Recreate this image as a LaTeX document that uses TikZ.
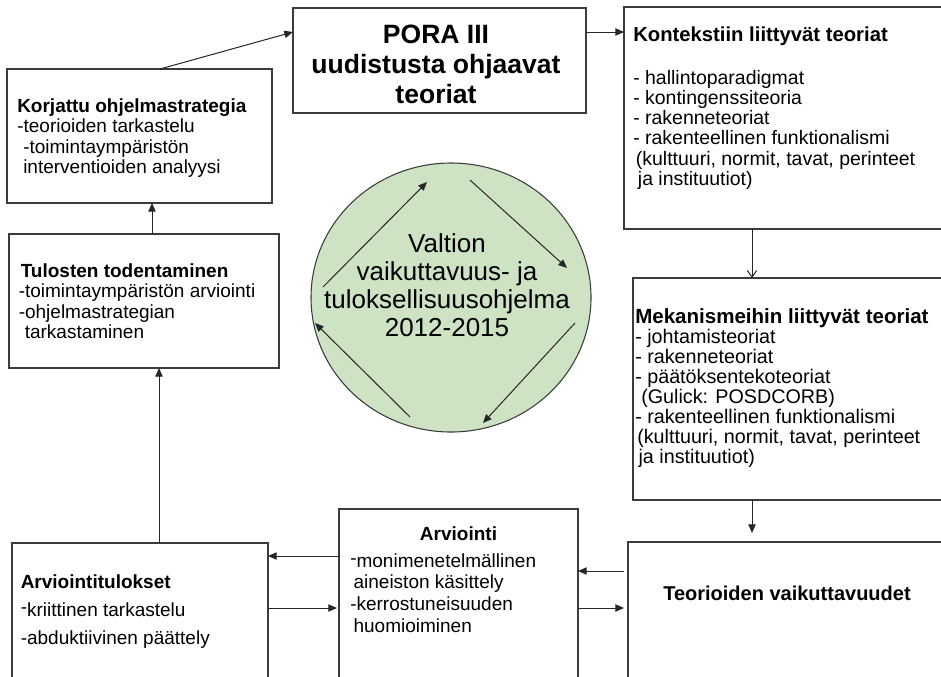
\documentclass[tikz,border=0pt]{standalone}
\usepackage{fontspec}
\setmainfont{Liberation Sans}
\usetikzlibrary{arrows.meta,fit,calc,shapes.geometric}

\definecolor{circfill}{RGB}{206,226,196}
\definecolor{linegray}{RGB}{60,60,60}

% raised dash used in two of the bullet lists
\newcommand{\updash}{\raisebox{0.12em}{-}}
% font sizes (1 unit = 0.75pt)
\newcommand{\bodyfont}{\fontsize{14.25}{15.4}\selectfont}

\begin{document}
\begin{tikzpicture}[x=0.75pt,y=-0.75pt,
  box/.style={draw=linegray, line width=0.9pt, inner sep=0pt, outer sep=0pt, fit={#1}},
  txt/.style={anchor=north west, inner sep=0pt, align=left},
  conn/.style={draw=black!85, line width=0.75pt, -{Triangle[length=6.5pt,width=5.5pt]}},
  openconn/.style={draw=black!85, line width=0.75pt, -{Straight Barb[length=5pt,width=7pt]}},
]
\useasboundingbox (0,0) rectangle (941,676);
\clip (0,0) rectangle (941,676);

% ---- boxes ----
\node[box={(7,69) (272,203)}] (korj) {};
\node[box={(293,8) (586,113)}] (pora) {};
\node[box={(624,7) (960,229)}] (kont) {};
\node[box={(633,278) (960,500)}] (mek) {};
\node[box={(628,542) (960,700)}] (teor) {};
\node[box={(339,509) (578,700)}] (arv) {};
\node[box={(12,543) (268,700)}] (atul) {};
\node[box={(9,234) (279,368)}] (tul) {};

% ---- central programme ellipse ----
\node[ellipse, draw=linegray, line width=0.8pt, fill=circfill, inner sep=0pt,
      minimum width=210pt, minimum height=201.75pt] (circ) at (451,297.5) {};

% ---- texts ----
\node[txt, font=\bodyfont] (korjtxt) at (17,98)
  {\textbf{Korjattu ohjelmastrategia}\\-teorioiden tarkastelu\\\hspace*{4.5pt}-toimintaympäristön\\\hspace*{4.5pt}interventioiden analyysi};

\node[anchor=north, inner sep=0pt, align=center, font=\fontsize{19.9}{22.5}\selectfont\bfseries] (poratxt) at (436,24.3)
  {PORA III\\uudistusta ohjaavat\\teoriat};

\node[anchor=base west, inner sep=0pt, font=\fontsize{15.2}{18}\selectfont\bfseries] (konthead) at (633,41)
  {Kontekstiin liittyvät teoriat};
\node[txt, font=\fontsize{14.6}{15.15}\selectfont] (konttxt) at (633,70)
  {- hallintoparadigmat\\- kontingenssiteoria\\- rakenneteoriat\\- rakenteellinen funktionalismi\\\hspace*{2pt}(kulttuuri, normit, tavat, perinteet\\\hspace*{3.5pt}ja instituutiot)};

\node[anchor=base west, inner sep=0pt, font=\fontsize{15.4}{18}\selectfont\bfseries] (mekhead) at (635,323.3)
  {Mekanismeihin liittyvät teoriat};
\node[txt, font=\fontsize{14.8}{15}\selectfont] (mektxt) at (635,329)
  {- johtamisteoriat\\- rakenneteoriat\\- päätöksentekoteoriat\\\hspace*{4.5pt}(Gulick: POSDCORB)\\- rakenteellinen funktionalismi\\\hspace*{1.5pt}(kulttuuri, normit, tavat, perinteet\\\hspace*{2.5pt}ja instituutiot)};

\node[anchor=base west, inner sep=0pt, font=\fontsize{15}{18}\selectfont\bfseries] (teortxt) at (663,600)
  {Teorioiden vaikuttavuudet};

\node[anchor=base, inner sep=0pt, font=\bodyfont\bfseries] (arvhead) at (458.5,540) {Arviointi};
\node[txt, font=\fontsize{14.25}{16.3}\selectfont] (arvtxt) at (350,553)
  {\updash monimenetelmällinen\\\hspace*{2.5pt}aineiston käsittely\\-kerrostuneisuuden\\\hspace*{2.5pt}huomioiminen};

\node[txt, font=\fontsize{14.25}{21}\selectfont] (atultxt) at (20.5,574)
  {\textbf{Arviointitulokset}\\\updash kriittinen tarkastelu\\-abduktiivinen päättely};

\node[txt, font=\bodyfont] (tultxt) at (18.5,263)
  {\hspace*{1.5pt}\textbf{Tulosten todentaminen}\\-toimintaympäristön arviointi\\-ohjelmastrategian\\\hspace*{4.5pt}tarkastaminen};

\node[anchor=north, inner sep=0pt, align=center, font=\fontsize{19.5}{21.2}\selectfont] (circtxt) at (447,233)
  {Valtion\\vaikuttavuus- ja\\tuloksellisuusohjelma\\2012-2015};

% ---- connectors between boxes ----
\draw[conn] ($(korj.north west)+(153,0)$) -- ($(pora.north west)+(0,24)$);
\draw[conn] ($(pora.north east)+(0,24)$) -- ($(kont.north west)+(0,25)$);
\draw[openconn] ($(kont.south west)+(128,0)$) -- ($(mek.north west)+(119,0)$);
\draw[conn, shorten >=6.75pt] ($(mek.south west)+(119,0)$) -- ($(teor.north west)+(124,0)$);
\draw[conn] ($(teor.north west)+(-4,29)$) -- ($(arv.north east)+(0,62)$);
\draw[conn] ($(arv.north east)+(0,99)$) -- ($(teor.north west)+(-4,66)$);
\draw[conn] ($(arv.north west)+(0,47)$) -- ($(atul.north east)+(0,13)$);
\draw[conn] ($(atul.north east)+(0,65)$) -- ($(arv.north west)+(-2,99)$);
\draw[conn] ($(atul.north west)+(147,0)$) -- ($(tul.south west)+(150,0)$);
\draw[conn] ($(tul.north west)+(143,0)$) -- ($(korj.south west)+(145,0)$);

% ---- cycle arrows inside the ellipse ----
\coordinate (ca1) at (323,287);  \coordinate (ca2) at (427,182);
\coordinate (cb1) at (470,180);  \coordinate (cb2) at (567,268);
\coordinate (cc1) at (575,323);  \coordinate (cc2) at (483,423);
\coordinate (cd1) at (410,417);  \coordinate (cd2) at (315,323);
\draw[conn] (ca1) -- (ca2);
\draw[conn] (cb1) -- (cb2);
\draw[conn] (cc1) -- (cc2);
\draw[conn] (cd1) -- (cd2);
\end{tikzpicture}
\end{document}
